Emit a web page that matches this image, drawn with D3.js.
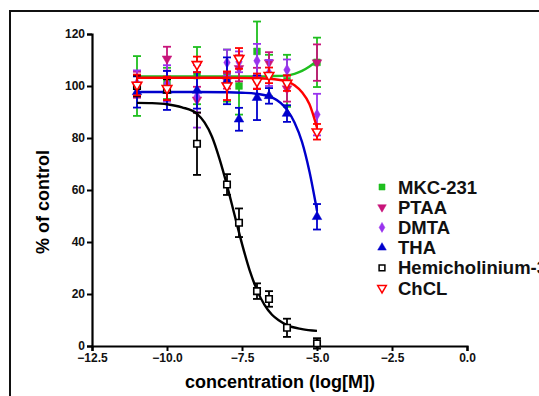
<!DOCTYPE html>
<html>
<head>
<meta charset="utf-8">
<script src="https://cdn.jsdelivr.net/npm/d3@7"></script>
<style>
  body { margin: 0; background: #fff; overflow: hidden; }
  svg { display: block; font-family: "Liberation Sans", Arial, sans-serif; font-weight: bold; }
</style>
</head>
<body>
<div id="chart"></div>
<script>
// x values: log molar concentration
const logConc = [-11, -10, -9, -8, -7.6, -7, -6.6, -6, -5];

const seriesNames = ['MKC-231', 'PTAA', 'DMTA', 'THA', 'Hemicholinium-3', 'ChCL'];

// mean and SEM, % of control
const mkcMean = [100, 101, 104, 104, 100, 113.3, 104, 102, 109.1];
const mkcSem = [11.5, 6, 11, 10, 11, 11.5, 8, 10, 9.5];
const ptaaMean = [100.5, 110.5, 94.7, 102, 106.8, 103, 109, 99, 109];
const ptaaSem = [5, 4.6, 5, 3, 5, 4, 4, 5, 7];
const dmtaMean = [101, 101, 96, 109, 109.3, 109.7, 105, 106.2, 89];
const dmtaSem = [5, 7, 12, 5, 4, 6.5, 5, 4, 8];
const thaMean = [97.7, 98.3, 98.3, 102, 87.2, 95.5, 96.2, 89.4, 49.7];
const thaSem = [6, 7.5, 7, 9, 4.4, 8.6, 3, 3.2, 4.9];
const hemiMean = [100, 98.6, 77.8, 62.1, 47.4, 21.1, 18.1, 7.0, 1.0];
const hemiSem = [4, 4, 12, 4, 5.5, 3, 3, 3.5, 2];
const chclMean = [100.4, 99.1, 108.3, 100.1, 110.6, 101.8, 104.1, 101.1, 82.4];
const chclSem = [4, 4.5, 3, 5.5, 4, 3, 3, 3, 3];

// fitted curves
const mkcFitX = [-11, -10, -9, -8, -7, -6.5, -6, -5.75, -5.5, -5.25, -5];
const mkcFitY = [103.7, 103.7, 103.7, 103.7, 103.7, 103.8, 104.1, 104.7, 105.8, 107.5, 109.6];
const thaFitX = [-11, -10, -9, -8, -7.5, -7, -6.5, -6, -5.75, -5.5, -5.25, -5];
const thaFitY = [97.7, 97.7, 97.7, 97.6, 97.4, 97.0, 95.6, 90.8, 86.0, 78.5, 67, 52];
const hemiFitX = [-11, -10.5, -10, -9.5, -9, -8.75, -8.5, -8.25, -8, -7.75, -7.5, -7.25, -7, -6.75, -6.5, -6.25, -6, -5.5, -5];
const hemiFitY = [93.5, 93.4, 93.0, 91.8, 89.3, 86, 80.5, 72, 61.8, 50.5, 39.3, 29.3, 21.5, 15.8, 12.0, 9.7, 8.0, 6.5, 5.8];
const chclFitX = [-11, -10, -9, -8, -7, -6.5, -6, -5.75, -5.5, -5.25, -5];
const chclFitY = [103.2, 103.2, 103.2, 103.2, 103.0, 102.7, 101.8, 100.3, 97.6, 93, 84];

const xTicks = [-12.5, -10, -7.5, -5, -2.5, 0];
const yTicks = [0, 20, 40, 60, 80, 100, 120];

const width = 539;
const height = 396;

const svg = d3.select('#chart').append('svg')
  .attr('width', width)
  .attr('height', height);

// outer frame (runs off the right and bottom edges)
svg.append('rect')
  .attr('x', 10).attr('y', 11)
  .attr('width', 700).attr('height', 500)
  .attr('fill', 'none')
  .attr('stroke', '#111')
  .attr('stroke-width', 2);

const x = d3.scaleLinear().domain([-12.5, 0]).range([92, 467]);
const y = d3.scaleLinear().domain([0, 120]).range([346, 34]);

// axes
const xAxis = d3.axisBottom(x).tickValues(xTicks).tickSize(5).tickPadding(2)
  .tickFormat(d3.format('.1f'));
const gX = svg.append('g')
  .attr('transform', 'translate(0,' + y(0) + ')')
  .call(xAxis);

const yAxis = d3.axisLeft(y).tickValues(yTicks).tickSize(5).tickPadding(2);
const gY = svg.append('g')
  .attr('transform', 'translate(' + x(-12.5) + ',0)')
  .call(yAxis);

[gX, gY].forEach(g => {
  g.select('.domain').attr('stroke', '#000').attr('stroke-width', 2.2);
  g.selectAll('.tick line').attr('stroke', '#000').attr('stroke-width', 2);
  g.selectAll('.tick text')
    .attr('fill', '#111')
    .style('font-size', '12px')
    .style('font-weight', 'bold')
    .style('font-family', '"Liberation Sans", Arial, sans-serif');
});

// axis titles
svg.append('text')
  .attr('x', 280).attr('y', 388)
  .attr('text-anchor', 'middle')
  .style('font-size', '18px')
  .text('concentration (log[M])');

svg.append('text')
  .attr('transform', 'translate(49,202) rotate(-90)')
  .attr('text-anchor', 'middle')
  .style('font-size', '18px')
  .text('% of control');

const series = [
  { name: seriesNames[0], mean: mkcMean, sem: mkcSem, color: '#1fbf1f', symbol: d3.symbolSquare, size: 46, rot: 0, fill: true, fitX: mkcFitX, fitY: mkcFitY },
  { name: seriesNames[1], mean: ptaaMean, sem: ptaaSem, color: '#c8147a', symbol: d3.symbolTriangle, size: 40, rot: 180, fill: true },
  { name: seriesNames[2], mean: dmtaMean, sem: dmtaSem, color: '#9933ee', symbol: d3.symbolDiamond, size: 36, rot: 0, fill: true },
  { name: seriesNames[3], mean: thaMean, sem: thaSem, color: '#0000cc', symbol: d3.symbolTriangle, size: 40, rot: 0, fill: true, fitX: thaFitX, fitY: thaFitY },
  { name: seriesNames[4], mean: hemiMean, sem: hemiSem, color: '#000000', symbol: d3.symbolSquare, size: 42, rot: 0, fill: false, fitX: hemiFitX, fitY: hemiFitY },
  { name: seriesNames[5], mean: chclMean, sem: chclSem, color: '#ff0000', symbol: d3.symbolTriangle, size: 40, rot: 180, fill: false, fitX: chclFitX, fitY: chclFitY }
];

const line = d3.line()
  .x(d => x(d[0]))
  .y(d => y(d[1]))
  .curve(d3.curveMonotoneX);

const capW = 4;

series.forEach(s => {
  const g = svg.append('g');

  if (s.fitX) {
    g.append('path')
      .datum(s.fitX.map((v, i) => [v, s.fitY[i]]))
      .attr('d', line)
      .attr('fill', 'none')
      .attr('stroke', s.color)
      .attr('stroke-width', 2.4);
  }

  const pts = logConc.map((c, i) => ({ c: c, m: s.mean[i], e: s.sem[i] }));

  // error bars
  const eb = g.selectAll('.eb').data(pts).enter().append('g');
  eb.append('line')
    .attr('x1', d => x(d.c)).attr('x2', d => x(d.c))
    .attr('y1', d => y(d.m + d.e)).attr('y2', d => y(d.m - d.e))
    .attr('stroke', s.color).attr('stroke-width', 1.8);
  eb.append('line')
    .attr('x1', d => x(d.c) - capW).attr('x2', d => x(d.c) + capW)
    .attr('y1', d => y(d.m + d.e)).attr('y2', d => y(d.m + d.e))
    .attr('stroke', s.color).attr('stroke-width', 1.8);
  eb.append('line')
    .attr('x1', d => x(d.c) - capW).attr('x2', d => x(d.c) + capW)
    .attr('y1', d => y(d.m - d.e)).attr('y2', d => y(d.m - d.e))
    .attr('stroke', s.color).attr('stroke-width', 1.8);

  // markers
  g.selectAll('.pt').data(pts).enter().append('path')
    .attr('d', d3.symbol().type(s.symbol).size(s.size))
    .attr('transform', d => 'translate(' + x(d.c) + ',' + y(d.m) + ') rotate(' + s.rot + ')')
    .attr('fill', s.fill ? s.color : '#fff')
    .attr('stroke', s.color)
    .attr('stroke-width', s.fill ? 0.5 : 1.6);
});

// legend
const legend = svg.append('g');
series.forEach((s, i) => {
  const ly = 187 + i * 20.2;
  legend.append('path')
    .attr('d', d3.symbol().type(s.symbol).size(s.size * 0.8))
    .attr('transform', 'translate(382,' + ly + ') rotate(' + s.rot + ')')
    .attr('fill', s.fill ? s.color : '#fff')
    .attr('stroke', s.color)
    .attr('stroke-width', s.fill ? 0.5 : 1.5);
  legend.append('text')
    .attr('x', 398).attr('y', ly + 6.5)
    .style('font-size', '18.5px')
    .attr('fill', '#111')
    .text(s.name);
});
</script>
</body>
</html>
